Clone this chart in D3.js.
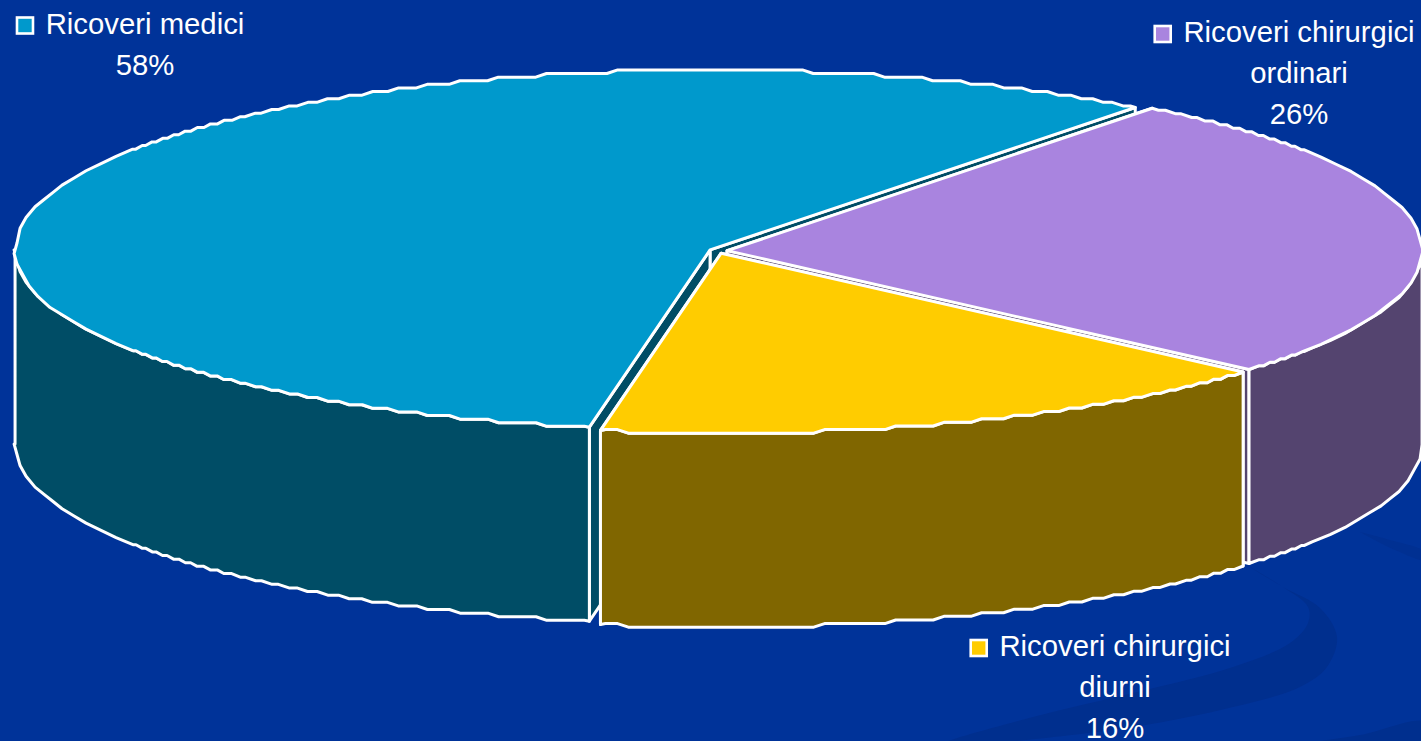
<!DOCTYPE html>
<html>
<head>
<meta charset="utf-8">
<style>
  html, body { margin: 0; padding: 0; background: #003399; overflow: hidden; }
  svg { display: block; }
  text { font-family: "Liberation Sans", Arial, sans-serif; fill: #fff; }
</style>
<script src="https://cdn.jsdelivr.net/npm/d3@7"></script>
</head>
<body>
<svg width="1421" height="741"></svg>
<script>
// clockwise from the cut at the bottom of the pie
const categories = ["Ricoveri medici", "Ricoveri chirurgici ordinari", "Ricoveri chirurgici diurni"];
const values = [57.7, 26, 16.3];   // labels show these rounded
const topColors = ["#0099CC", "#A984DF", "#FFCC00"];
const sideColors = ["#004D66", "#54446F", "#806600"];
const labelLines = [["Ricoveri medici"], ["Ricoveri chirurgici", "ordinari"], ["Ricoveri chirurgici", "diurni"]];

let cx = 718.2, cy = 250.9;     // pie centre before the slices are pulled out
let rx = 695, ry = 180, depth = 194;
let explodeX = 8.9, explodeY = 2.4;
let gridY = 3.6;                // the outline in the original is snapped to a coarse grid
let gridX = 3;
let start = (190 * Math.PI) / 180;

let svg = d3.select("svg");

// darker swooshes of the slide background
let wave = d3.line().curve(d3.curveCatmullRom);
let bg = svg.append("g").attr("fill", "#002F8E");
bg.append("path").attr("d", wave([[1243, 563], [1283, 587], [1320, 608], [1337, 637], [1327, 667], [1300, 687], [1233, 707], [1133, 727], [967, 745],
  [940, 745], [1033, 717], [1133, 693], [1233, 667], [1290, 643], [1308, 623], [1308, 607], [1283, 587], [1243, 563]]));
bg.append("path").attr("d", wave([[1360, 532], [1390, 540], [1425, 552], [1425, 560], [1395, 550], [1360, 532]])).attr("fill", "#003092");
bg.append("path").attr("d", wave([[1290, 745], [1360, 735], [1425, 722], [1425, 745], [1290, 745]]));

let pie = d3.pie().sort(null).startAngle(start).endAngle(start + 2 * Math.PI);
let arcs = pie(values);

function project(c, a) {
  // d3.pie angles start at 12 o'clock
  return [c.x + rx * Math.sin(a), c.y - ry * Math.cos(a)];
}

// flat runs joined by short slopes where the rim is level, rough chords on the sides
function rim(c, a0, a1) {
  let n = Math.ceil((a1 - a0) * 900);
  let runs = [];
  for (let i = 0; i <= n; i++) {
    let p = project(c, a0 + ((a1 - a0) * i) / n);
    let level = Math.round((p[1] - c.y) / gridY);
    let run = runs[runs.length - 1];
    if (run && run.level === level) run.last = p[0];
    else runs.push({ level: level, first: p[0], last: p[0] });
  }
  let pts = [project(c, a0)];
  runs.forEach(run => {
    let y = c.y + run.level * gridY;
    let len = Math.abs(run.last - run.first);
    let dir = run.last >= run.first ? 1 : -1;
    if (len > 9) {
      let inset = len > 14 ? 5 : 3;
      pts.push([run.first + dir * inset, y], [run.last - dir * inset, y]);
    } else {
      let last = pts[pts.length - 1];
      let x = c.x + Math.round(((run.first + run.last) / 2 - c.x) / gridX) * gridX;
      if (Math.hypot(x - last[0], y - last[1]) >= 11) pts.push([x, y]);
    }
  });
  pts.push(project(c, a1));
  return pts;
}

function drop(pts) {
  return pts.map(p => [p[0], p[1] + depth]);
}

let line = d3.line();

function face(g, pts, fill) {
  g.append("path")
    .attr("d", line(pts) + "Z")
    .attr("fill", fill)
    .attr("stroke", "#fff")
    .attr("stroke-width", 3)
    .attr("stroke-linejoin", "round");
}

arcs.forEach((d, i) => {
  let mid = (d.startAngle + d.endAngle) / 2;
  let c = { x: cx + explodeX * Math.sin(mid), y: cy - explodeY * Math.cos(mid) };
  let g = svg.append("g").attr("class", "slice");
  let side = sideColors[i];

  // cut faces first, they end up behind everything else
  [d.endAngle, d.startAngle].forEach(a => {
    let p = project(c, a);
    let apex = [c.x, c.y];
    face(g, [apex, p, [p[0], p[1] + depth], [apex[0], apex[1] + depth]], side);
  });

  // outer wall, only the part where the rim faces the viewer (front half of each turn)
  [0, 1].forEach(turn => {
    let lo = Math.PI / 2 + turn * 2 * Math.PI, hi = lo + Math.PI;
    let wallFrom = Math.max(d.startAngle, lo), wallTo = Math.min(d.endAngle, hi);
    if (wallTo > wallFrom) {
      let r = rim(c, wallFrom, wallTo);
      face(g, r.concat(drop(r).reverse()), side);
    }
  });

  face(g, [[c.x, c.y]].concat(rim(c, d.startAngle, d.endAngle)), topColors[i]);
});

// labels: centre x and first baseline of each block
let labelX = [145, 1299, 1115];
let labelY = [33.5, 42, 656];
let lineGap = 41;

labelX.forEach((x, i) => {
  let lines = labelLines[i].concat([Math.round(values[i]) + "%"]);
  let g = svg.append("g");
  let t = g.selectAll("text").data(lines).enter().append("text")
    .attr("x", x)
    .attr("y", (l, j) => labelY[i] + j * lineGap)
    .attr("text-anchor", "middle")
    .attr("font-size", "29.3px")
    .text(l => l);
  let w = t.node().getComputedTextLength();
  g.append("rect")
    .attr("x", x - w / 2 - 28.7)
    .attr("y", labelY[i] - 16)
    .attr("width", 16)
    .attr("height", 16)
    .attr("fill", topColors[i])
    .attr("stroke", "#fff")
    .attr("stroke-width", 2.6);
});
</script>
</body>
</html>
